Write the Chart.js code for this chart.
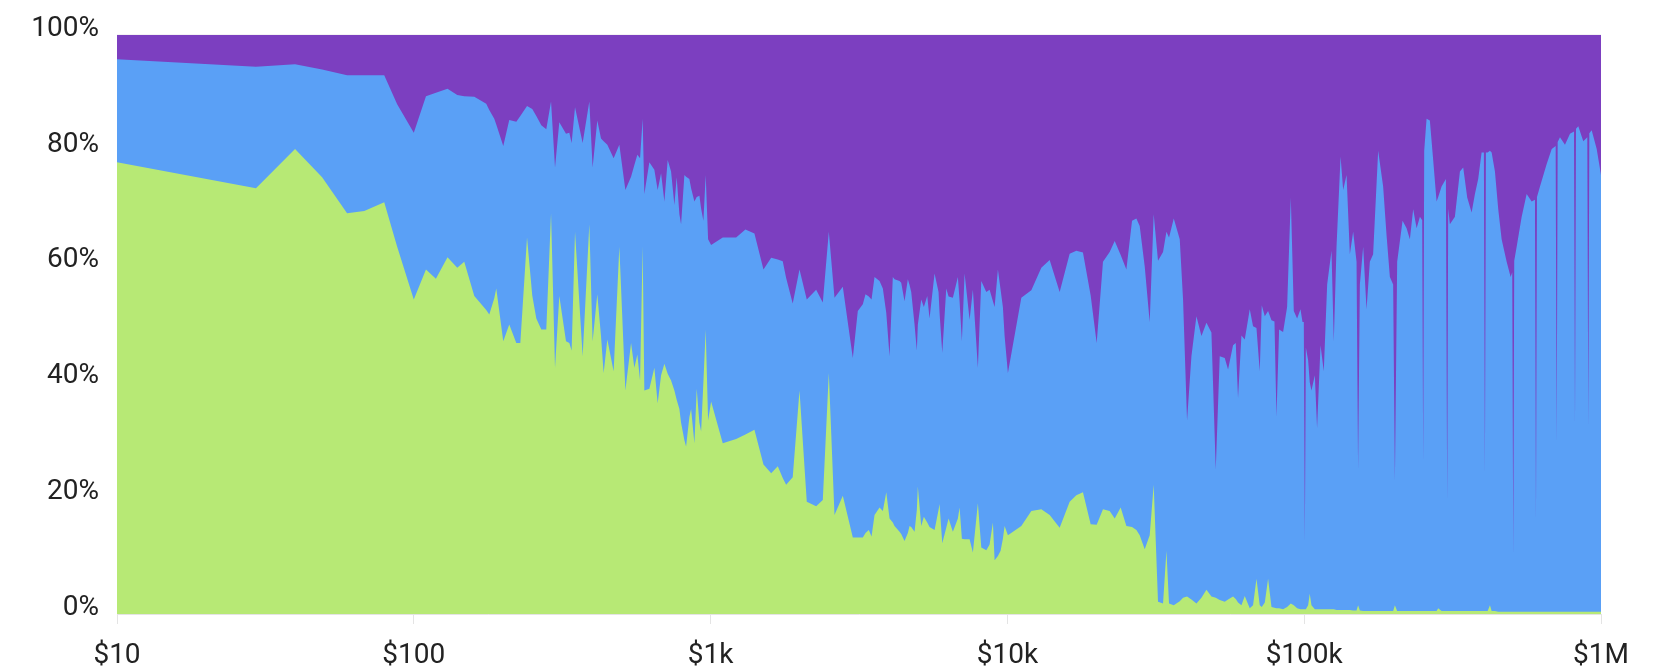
<!DOCTYPE html>
<html>
<head>
<meta charset="utf-8">
<script src="https://cdn.jsdelivr.net/npm/chart.js@4.4.1/dist/chart.umd.min.js"></script>
<style>
html,body{margin:0;padding:0;background:#fff;}
#wrap{width:1680px;height:671px;}
</style>
</head>
<body>
<div id="wrap"><canvas id="c" width="1680" height="671"></canvas></div>
<script>
// x: dollar amount
const amounts = [
10,29.4,39.8,49.1,59.6,68.1,79.5,87.9,100,109.9,
118.7,129.9,140.1,147.9,159.9,175.4,179.6,186.7,189.6,200.2,
209.7,221.5,228.5,240.7,250.7,258.7,268.9,279.5,290.0,299.1,
309.2,325.7,334.2,340.2,349.3,370.6,390.3,400.4,415.2,427.3,
436.1,448.8,471.3,492.6,516.2,539.5,553.5,566.5,578.5,590.3,
598.1,621.8,646.4,663.2,681.0,698.7,716.8,735.9,755.1,768.6,
785.0,795.3,816.0,826.8,848.2,859.6,882.0,897.8,916.8,929.0,
945.6,962.7,980.8,1004,1099,1219,1310,1405,1507,1600,
1684,1750,1797,1891,1993,2109,2268,2388,2502,2615,
2789,3014,3133,3257,3326,3412,3485,3567,3709,3805,
3907,4008,4111,4166,4331,4388,4502,4619,4681,4742,
4866,4953,4992,5125,5230,5370,5466,5683,5862,5907,
6033,6223,6336,6550,6810,6901,7025,7174,7458,7651,
7953,8166,8490,8710,8937,9055,9290,9486,9656,9786,
10040,11140,12040,13010,13880,15000,16210,17070,17970,19080,
19990,20990,22110,22990,24080,25170,26300,27200,27910,29020,
30160,31110,32170,33450,34340,35040,36350,38080,39070,40300,
41690,43340,45060,46840,48690,50350,51930,53990,55390,57580,
58800,59850,61450,63050,65550,67240,69050,70830,71950,73660,
75560,77590,79400,80650,82310,84900,87580,90130,92250,94650,97160,
98700,99700,100500,101300,103100,104400,105800,108600,110500,113500,116400,119500,
123600,125800,128500,132600,135300,138900,142500,146200,150100,151900,
154000,158000,162200,166400,170700,177500,184500,189500,194400,199400,
202100,205700,214500,221300,227000,232900,239200,245400,249800,251700,253700,258400,
265100,272000,279300,282800,290300,300200,303200,305600,309600,321900,334700,
343400,354200,366500,376000,385700,396000,403100,406300,409500,415000,422500,428100,
439200,450600,462600,481000,496100,502300,506200,510100,519800,540400,561700,584000,
599100,603800,608500,622900,656100,682200,703500,709000,714500,727400,756100,786200,811000,817300,823700,838600,
871600,899200,906200,913300,930300,967200,1000000
];

// share of each group, in percent
const greenShare = [
78.0,73.5,80.3,75.4,69.2,69.6,71.1,63.4,54.3,59.5,
57.9,61.6,59.8,60.8,54.9,52.5,51.7,54.5,56.2,47.1,
50.0,46.8,46.8,65.0,55.0,51.0,49.1,49.1,69.2,42.5,
54.9,47.1,46.8,45.5,66.0,44.5,67.3,47.1,55.2,48.0,
41.6,47.4,41.9,63.4,38.6,46.8,42.5,44.8,40.3,63.5,
38.6,38.9,42.5,36.4,41.2,43.2,41.5,40.3,38.6,37.0,
35.4,33.0,30.0,28.9,34.0,35.4,29.5,38.9,33.0,31.5,
40.0,49.1,33.4,36.7,29.5,30.2,31.0,31.8,25.8,24.3,
25.5,23.5,22.3,23.6,38.6,19.4,18.6,19.7,41.6,17.1,
20.4,13.2,13.2,13.2,14.0,14.5,13.4,17.1,18.4,17.8,
21.0,16.5,15.8,15.2,14.2,13.8,12.6,14.0,15.2,15.0,
14.2,18.0,22.0,15.2,16.8,15.8,15.0,14.5,18.0,19.0,
12.2,14.9,16.5,14.2,16.5,18.4,13.0,12.9,12.9,10.6,
19.1,11.5,11.0,12.0,15.8,9.3,10.0,10.9,13.0,15.2,
13.6,15.2,17.8,18.1,17.1,14.9,19.4,20.5,21.0,15.5,
15.4,18.1,17.8,16.5,18.4,15.2,15.0,14.5,13.6,11.2,
13.6,22.3,2.1,1.8,10.9,1.8,1.5,2.2,2.8,3.0,
2.5,1.8,2.8,4.2,3.0,2.8,2.4,2.1,2.5,3.0,
2.6,2.0,1.5,3.1,1.0,1.5,6.1,1.5,1.2,2.0,
6.1,1.2,1.1,1.0,1.0,0.8,1.2,1.8,1.5,1.0,0.8,
0.8,0.8,0.8,0.8,1.5,3.5,1.5,0.8,0.8,0.8,0.8,0.8,
0.8,0.8,0.7,0.7,0.7,0.7,0.7,0.6,0.6,1.5,
0.6,0.5,0.5,0.5,0.5,0.5,0.5,0.5,0.5,0.5,
1.5,0.5,0.5,0.5,0.5,0.5,0.5,0.5,0.5,0.5,0.5,0.5,
0.5,0.5,0.5,1.0,0.5,0.5,0.5,0.5,0.5,0.5,0.5,
0.5,0.5,0.5,0.5,0.5,0.5,0.5,0.5,0.5,0.5,1.5,0.5,
0.5,0.4,0.4,0.4,0.4,0.4,0.4,0.4,0.4,0.4,0.4,0.4,
0.4,0.4,0.4,0.4,0.4,0.4,0.4,0.4,0.4,0.4,0.4,0.4,0.4,0.4,0.4,0.4,
0.4,0.4,0.4,0.4,0.4,0.4,0.4
];

const blueShare = [
17.8,21.0,14.6,18.6,23.8,23.4,21.9,24.6,28.8,29.9,
32.1,29.1,29.8,28.6,34.4,35.6,35.3,31.0,28.3,33.7,
35.3,38.2,39.2,22.7,32.2,35.0,35.3,34.6,19.3,34.6,
30.0,35.8,36.3,35.8,21.5,36.8,21.2,30.0,30.0,34.1,
40.0,33.6,36.8,17.6,34.6,28.7,35.0,34.5,38.4,22.0,
33.9,39.1,34.2,36.8,34.9,28.0,36.9,36.1,32.0,38.4,
33.6,34.3,45.8,46.6,41.1,38.1,41.7,33.1,39.2,38.5,
27.9,26.7,31.3,27.0,35.5,34.8,35.4,33.9,33.7,37.2,
35.7,37.4,35.7,30.0,20.9,34.9,37.4,34.1,24.4,37.5,
36.1,31.0,39.1,40.3,41.2,40.3,40.9,41.1,39.1,38.4,
31.0,28.0,42.4,42.6,43.3,43.4,41.4,43.8,41.6,40.6,
35.8,27.5,28.0,39.1,36.2,39.1,36.0,44.3,37.6,33.0,
32.9,41.3,38.3,40.4,41.7,35.6,34.1,45.9,37.9,45.4,
23.4,46.0,44.6,44.0,38.2,43.7,49.5,45.1,40.0,32.8,
28.0,39.4,38.1,41.7,44.0,40.7,42.8,42.2,41.4,39.5,
31.4,42.7,44.7,47.9,43.6,44.3,52.9,53.8,53.4,48.8,
36.8,46.7,58.9,60.7,55.1,63.2,66.8,62.5,51.5,30.4,
42.0,49.6,45.2,46.1,45.6,22.2,42.1,42.1,39.7,43.4,
44.2,35.3,46.6,44.3,51.6,48.2,43.3,40.4,52.1,49.4,
46.2,49.5,49.4,33.1,48.1,47.9,51.8,70.1,50.8,50.0,51.8,
49.6,49.6,11.8,45.2,42.3,36.5,37.1,40.4,31.3,45.6,41.1,56.1,
61.9,46.3,62.7,78.3,72.5,75.1,61.4,65.4,60.2,23.5,
56.3,62.9,52.1,60.3,61.6,79.5,73.3,64.8,57.7,56.4,
21.5,60.3,67.4,66.1,64.2,69.4,66.1,68.1,67.5,25.8,79.5,85.0,
84.7,77.9,70.7,71.0,73.3,74.6,19.2,69.5,66.8,68.1,75.9,
76.6,71.4,68.8,72.0,74.6,79.2,79.2,23.8,79.2,79.2,78.5,79.2,
75.9,69.5,64.3,60.4,57.8,58.6,9.6,60.6,63.0,68.2,72.1,70.8,
71.1,16.1,71.6,73.4,77.3,79.9,80.4,29.1,81.1,81.9,80.6,82.5,82.9,32.4,83.4,83.8,
81.2,81.9,31.7,82.6,83.1,79.9,75.4
];

const purpleShare = [
4.2,5.5,5.1,6.0,7.0,7.0,7.0,12.0,16.9,10.6,
10.0,9.3,10.4,10.6,10.7,11.9,13.0,14.5,15.5,19.2,
14.7,15.0,14.0,12.3,12.8,14.0,15.6,16.3,11.5,22.9,
15.1,17.1,16.9,18.7,12.5,18.7,11.5,22.9,14.8,17.9,
18.4,19.0,21.3,19.0,26.8,24.5,22.5,20.7,21.3,14.5,
27.5,22.0,23.3,26.8,23.9,28.8,21.6,23.6,29.4,24.6,
31.0,32.7,24.2,24.5,24.9,26.5,28.8,28.0,27.8,30.0,
32.1,24.2,35.3,36.3,35.0,35.0,33.6,34.3,40.5,38.5,
38.8,39.1,42.0,46.4,40.5,45.7,44.0,46.2,34.0,45.4,
43.5,55.8,47.7,46.5,44.8,45.2,45.7,41.8,42.5,43.8,
48.0,55.5,41.8,42.2,42.5,42.8,46.0,42.2,43.2,44.4,
50.0,54.5,50.0,45.7,47.0,45.1,49.0,41.2,44.4,48.0,
54.9,43.8,45.2,45.4,41.8,46.0,52.9,41.2,49.2,44.0,
57.5,42.5,44.4,44.0,46.0,47.0,40.5,44.0,47.0,52.0,
58.4,45.4,44.1,40.2,38.9,44.4,37.8,37.3,37.6,45.0,
53.2,39.2,37.5,35.6,38.0,40.5,32.1,31.7,33.0,40.0,
49.6,31.0,39.0,37.5,34.0,35.0,31.7,35.3,45.7,66.6,
55.5,48.6,52.0,49.7,51.4,75.0,55.5,55.8,57.8,53.6,
53.2,62.7,51.9,52.6,47.4,50.3,50.6,58.1,46.7,48.6,
47.7,49.3,49.5,65.9,50.9,51.3,47.0,28.1,47.7,49.0,47.4,
49.6,49.6,87.4,54.0,56.2,60.0,61.4,58.8,67.9,53.6,58.1,43.1,
37.3,52.9,36.6,21.0,26.8,24.2,37.9,34.0,39.2,75.0,
43.1,36.6,47.4,39.2,37.9,20.0,26.2,34.7,41.8,43.1,
77.0,39.2,32.1,33.4,35.3,30.1,33.4,31.4,32.0,73.7,20.0,14.5,
14.8,21.6,28.8,28.0,26.2,24.9,80.3,30.0,32.7,31.4,23.6,
22.9,28.1,30.7,27.5,24.9,20.3,20.3,75.7,20.3,20.3,20.0,20.3,
23.6,30.1,35.3,39.2,41.8,41.0,90.0,39.0,36.6,31.4,27.5,28.8,
28.5,83.5,28.0,26.2,22.3,19.7,19.2,70.5,18.5,17.7,19.0,17.1,16.7,67.2,16.2,15.8,
18.4,17.7,67.9,17.0,16.5,19.7,24.2
];

const xTickValues = [10, 100, 1000, 10000, 100000, 1000000];
const xTickLabels = ["$10", "$100", "$1k", "$10k", "$100k", "$1M"];
const yTickValues = [0, 20, 40, 60, 80, 100];

const seriesColors = { green: "#b7e975", blue: "#5aa0f6", purple: "#7c3fc0" };

function toPoints(vals) {
  return amounts.map((a, i) => ({ x: a, y: vals[i] }));
}
function ds(label, vals, color) {
  return {
    label: label,
    data: toPoints(vals),
    backgroundColor: color,
    borderColor: color,
    borderWidth: 0,
    pointRadius: 0,
    pointHoverRadius: 0,
    tension: 0,
    fill: "origin"
  };
}

const font = { family: "Roboto, 'Noto Sans', sans-serif", size: 28 };

new Chart(document.getElementById("c"), {
  type: "line",
  data: {
    datasets: [
      ds("Green", greenShare, seriesColors.green),
      ds("Blue", blueShare, seriesColors.blue),
      ds("Purple", purpleShare, seriesColors.purple)
    ]
  },
  options: {
    responsive: false,
    animation: false,
    devicePixelRatio: 1,
    layout: { padding: { top: 32, right: 79, left: 0, bottom: 0 } },
    plugins: { legend: { display: false }, tooltip: { enabled: false } },
    elements: { line: { borderWidth: 0 } },
    scales: {
      x: {
        type: "logarithmic",
        min: 10,
        max: 1000000,
        afterBuildTicks: (s) => { s.ticks = xTickValues.map(v => ({ value: v })); },
        afterFit: (s) => { s.height = 57; },
        ticks: {
          autoSkip: false,
          maxRotation: 0,
          color: "#222",
          font: font,
          padding: 15,
          callback: (v) => { const i = xTickValues.indexOf(v); return i >= 0 ? xTickLabels[i] : ""; }
        },
        grid: { drawOnChartArea: false, drawTicks: true, tickLength: 10, color: "#e4e4e4", lineWidth: 1 },
        border: { display: true, color: "#e4e4e4", width: 1 }
      },
      y: {
        stacked: true,
        min: 0,
        max: 100,
        z: 1,
        afterBuildTicks: (s) => { s.ticks = yTickValues.map(v => ({ value: v })); },
        afterFit: (s) => { s.width = 117; },
        ticks: {
          color: "#222",
          font: font,
          padding: 18,
          labelOffset: -6,
          callback: (v) => v + "%"
        },
        grid: { drawTicks: false, color: "rgba(0,0,0,0.045)", lineWidth: 1 },
        border: { display: false }
      }
    }
  }
});
</script>
</body>
</html>
